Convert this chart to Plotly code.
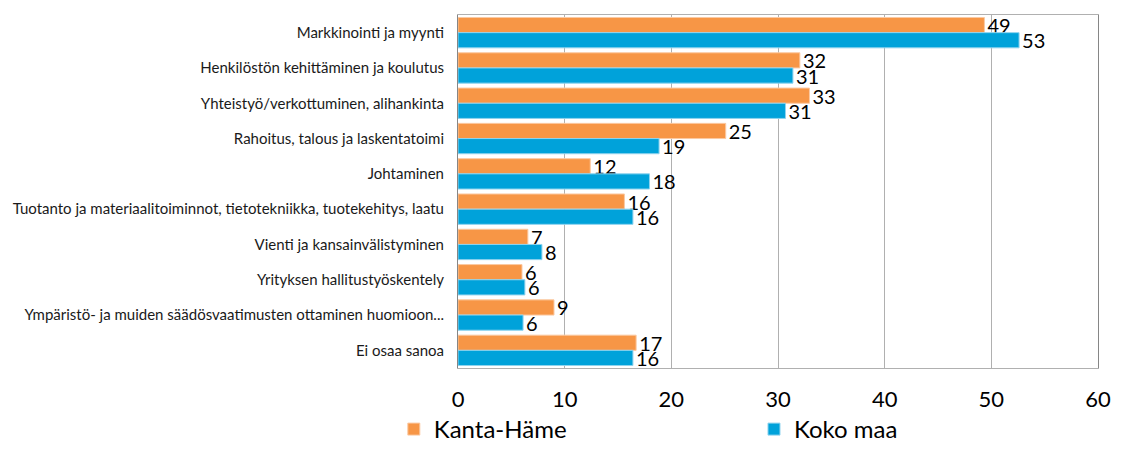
import plotly.graph_objects as go

categories = [
    "Markkinointi ja myynti",
    "Henkilöstön kehittäminen ja koulutus",
    "Yhteistyö/verkottuminen, alihankinta",
    "Rahoitus, talous ja laskentatoimi",
    "Johtaminen",
    "Tuotanto ja materiaalitoiminnot, tietotekniikka, tuotekehitys, laatu",
    "Vienti ja kansainvälistyminen",
    "Yrityksen hallitustyöskentely",
    "Ympäristö- ja muiden säädösvaatimusten ottaminen huomioon...",
    "Ei osaa sanoa",
]
kanta_hame = [49.35, 32.05, 32.95, 25.1, 12.4, 15.6, 6.55, 6.0, 9.0, 16.7]
koko_maa = [52.6, 31.4, 30.7, 18.85, 17.95, 16.4, 7.87, 6.27, 6.1, 16.4]
x_ticks = [0, 10, 20, 30, 40, 50, 60]

FONT = "Lato, 'Open Sans', sans-serif"

fig = go.Figure()
fig.add_trace(go.Bar(
    y=categories, x=kanta_hame, orientation="h", name="Kanta-Häme",
    marker=dict(color="#F79646", line=dict(color="#FBC9A2", width=1)),
    texttemplate="%{x:.0f}", textposition="outside", constraintext="none",
    textfont=dict(size=20, color="black", family=FONT), cliponaxis=False,
    legend="legend",
))
fig.add_trace(go.Bar(
    y=categories, x=koko_maa, orientation="h", name="Koko maa",
    marker=dict(color="#00A2DA", line=dict(color="#8FD3EE", width=1)),
    texttemplate="%{x:.0f}", textposition="outside", constraintext="none",
    textfont=dict(size=20, color="black", family=FONT), cliponaxis=False,
    legend="legend2",
))

leg_common = dict(
    orientation="h", xanchor="left", yanchor="bottom",
    xref="container", yref="container", y=0.0,
    font=dict(size=24, color="black", family=FONT),
    itemwidth=30, bgcolor="rgba(0,0,0,0)",
)
fig.update_layout(
    width=1122, height=452,
    margin=dict(l=458, r=24, t=15, b=84, autoexpand=False),
    paper_bgcolor="white", plot_bgcolor="white",
    barmode="group", bargap=0.14, bargroupgap=0,
    font=dict(family=FONT, color="black"),
    showlegend=True,
    legend=dict(x=0.351, **leg_common),
    legend2=dict(x=0.672, **leg_common),
)
fig.update_xaxes(
    range=[0, 60], tickvals=x_ticks, showgrid=True, gridcolor="#B0B0B0", gridwidth=1,
    zeroline=False, showline=True, linecolor="#B0B0B0", mirror=True,
    tickfont=dict(size=22, color="black", family=FONT), ticks="", ticklen=0,
    ticklabelstandoff=12, automargin=False,
)
fig.update_yaxes(
    autorange="reversed", showline=True, linecolor="#868686", mirror=True,
    tickfont=dict(size=15, color="#1a1a1a", family=FONT), ticks="",
    ticklabelstandoff=10, automargin=False,
)

fig.write_html("out.html", post_script="document.body.style.margin='0';",
               config={"displayModeBar": False})
